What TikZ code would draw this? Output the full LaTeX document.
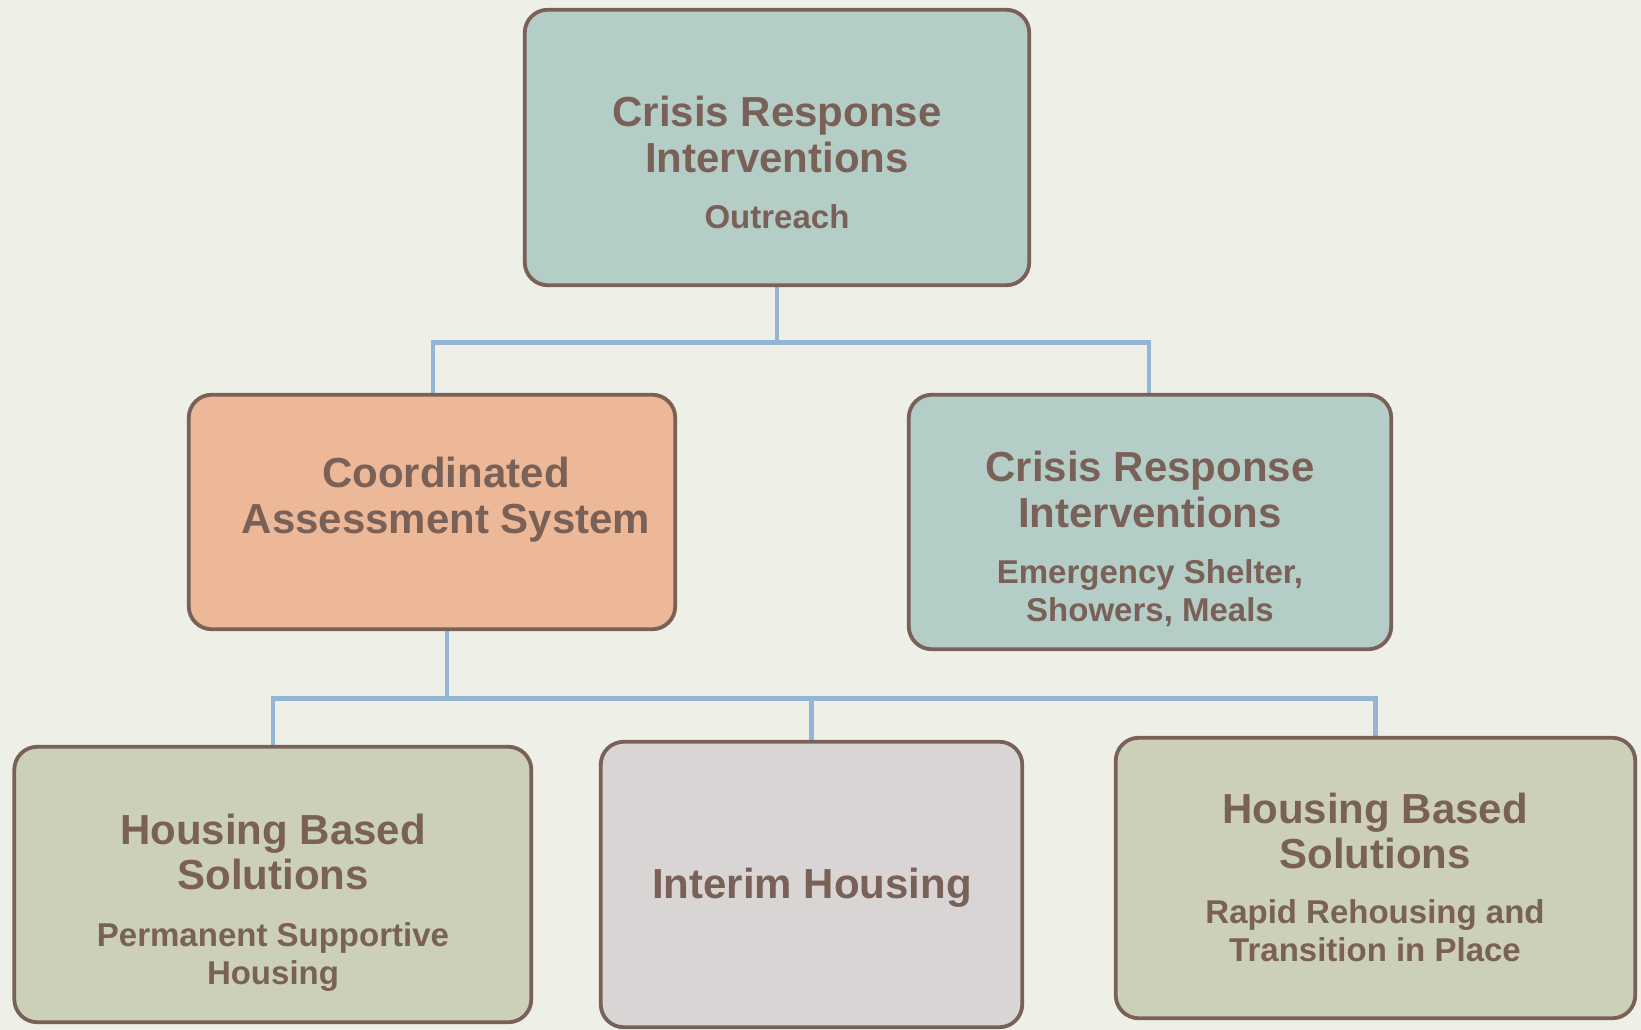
\documentclass[tikz,border=0pt]{standalone}
\usepackage{fontspec}
\setmainfont{Liberation Sans}
\usetikzlibrary{backgrounds}
\definecolor{bgc}{HTML}{EEEFE7}
\definecolor{teal}{HTML}{B5CDC7}
\definecolor{peach}{HTML}{ECB898}
\definecolor{sage}{HTML}{CCD0B8}
\definecolor{greyc}{HTML}{D9D5D4}
\definecolor{brownc}{HTML}{7A6157}
\definecolor{bluec}{HTML}{94B6D4}
\tikzset{
  box/.style={draw=brownc, line width=3.8pt, rounded corners=23pt, inner sep=0pt, outer sep=0pt},
  ttl/.style={text=brownc, font=\fontsize{42}{45}\selectfont\bfseries, anchor=base, inner sep=0pt},
  sub/.style={text=brownc, font=\fontsize{33}{38}\selectfont\bfseries, anchor=base, inner sep=0pt},
  conn/.style={draw=bluec, line width=4.5pt}
}
\begin{document}
\begin{tikzpicture}[x=1pt,y=-1pt]
\useasboundingbox (0,0) rectangle (1641,1030);
% boxes
\node[box, fill=teal, minimum width=504.5pt, minimum height=275.5pt] (top) at (777,147.5) {};
\node[box, fill=peach, minimum width=486.5pt, minimum height=234.5pt] (cas) at (432,512) {};
\node[box, fill=teal, minimum width=482.5pt, minimum height=254.5pt] (cri) at (1150,522) {};
\node[box, fill=sage, minimum width=517pt, minimum height=275.5pt] (hbl) at (272.8,884.5) {};
\node[box, fill=greyc, minimum width=421.5pt, minimum height=285.5pt] (int) at (811.5,884.5) {};
\node[box, fill=sage, minimum width=519.5pt, minimum height=280.5pt] (hbr) at (1375.5,878) {};
% background and connectors
\begin{scope}[on background layer]
\fill[bgc] (0,0) rectangle (1641,1030);
\draw[conn] (top.south) -- ++(0,57) coordinate (j1);
\draw[conn] ([xshift=-2pt]j1) -| ([xshift=1pt]cas.north);
\draw[conn] ([xshift=-2pt]j1) -| ([xshift=-1pt]cri.north);
\draw[conn] ([xshift=15pt]cas.south) -- ++(0,69) coordinate (j2);
\draw[conn] ([xshift=2pt]j2) -| (hbl.north);
\draw[conn] ([xshift=-2pt]j2) -| (int.north);
\draw[conn] ([xshift=-2pt]j2) -| (hbr.north);
\end{scope}
% texts
\node[ttl] (t1a) at (777,127) {Crisis Response};
\node[ttl] (t1b) at (777,172) {Interventions};
\node[sub] (t1c) at (777,228) {Outreach};
\node[ttl] (t2a) at (446,487) {Coordinated};
\node[ttl] (t2b) at (446,533) {Assessment System};
\node[ttl] (t3a) at (1150,481) {Crisis Response};
\node[ttl] (t3b) at (1150,527) {Interventions};
\node[sub] (t3c) at (1150,583) {Emergency Shelter,};
\node[sub] (t3d) at (1150,621) {Showers, Meals};
\node[ttl] (t4a) at (273,844) {Housing Based};
\node[ttl] (t4b) at (273,889) {Solutions};
\node[sub] (t4c) at (273,946) {Permanent Supportive};
\node[sub] (t4d) at (273,984) {Housing};
\node[ttl] (t5a) at (812,898) {Interim Housing};
\node[ttl] (t6a) at (1375,823) {Housing Based};
\node[ttl] (t6b) at (1375,868) {Solutions};
\node[sub] (t6c) at (1375,923) {Rapid Rehousing and};
\node[sub] (t6d) at (1375,961) {Transition in Place};
\end{tikzpicture}
\end{document}
